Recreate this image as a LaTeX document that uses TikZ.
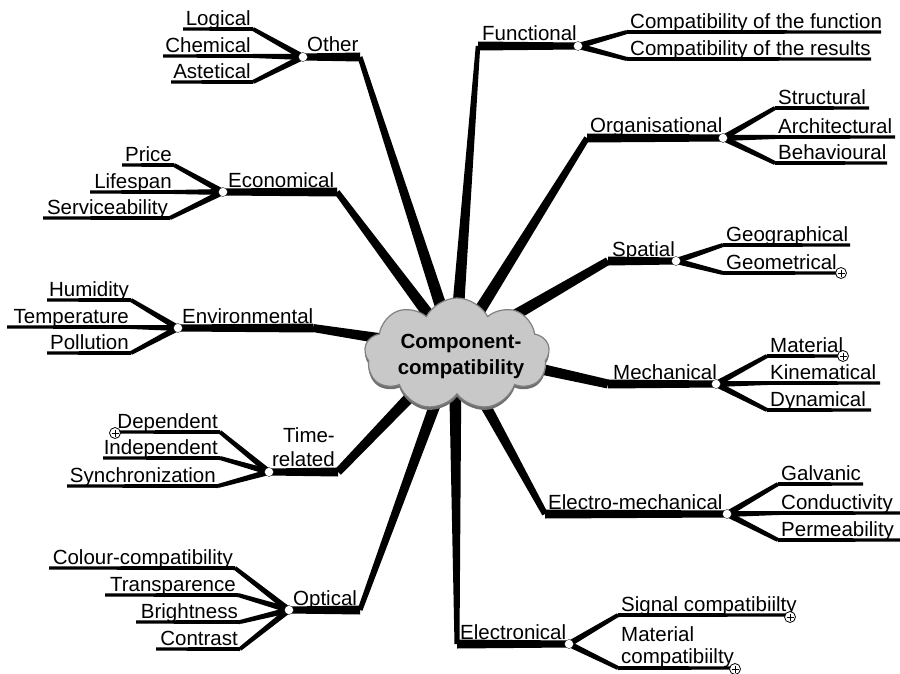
\documentclass[tikz,border=0pt]{standalone}
\usepackage{fontspec}
\setmainfont{Liberation Sans}
\usetikzlibrary{calc,shapes.symbols}

% filled segment from #1 to #2, half-widths #3 (start) and #4 (end)
\newcommand\branchseg[4]{%
  \fill ($(#1)!#3!90:(#2)$) -- ($(#2)!#4!-90:(#1)$) --
        ($(#2)!#4!90:(#1)$) -- ($(#1)!#3!-90:(#2)$) -- cycle;}

% main branch: hub -> elbow (#1), elbow -> junction (#2), elbow half-width #3
\newcommand\mainbranch[3]{%
  \branchseg{hub}{#1}{6.5pt}{#3}%
  \branchseg{#1}{#2}{4.5pt}{3.5pt}}

% leaf on the left: junction #1, key #2, bend #3, end #4, text #5
\newcommand\leafL[5]{%
  \coordinate (b#2) at (#3); \coordinate (e#2) at (#4);
  \branchseg{#1}{b#2}{3pt}{2pt}\branchseg{b#2}{e#2}{2pt}{1.6pt}%
  \node[lbl, anchor=base east] (t#2) at ($(b#2)+(-2,-3.2)$) {#5};}
% leaf on the right
\newcommand\leafR[5]{%
  \coordinate (b#2) at (#3); \coordinate (e#2) at (#4);
  \branchseg{#1}{b#2}{3pt}{2pt}\branchseg{b#2}{e#2}{2pt}{1.6pt}%
  \node[lbl, anchor=base west] (t#2) at ($(b#2)+(3,-3.2)$) {#5};}

\definecolor{cloudfill}{RGB}{200,200,200}
\definecolor{cloudedge}{RGB}{128,128,128}
\definecolor{cloudshade}{RGB}{110,110,110}

\tikzset{
  lbl/.style={inner sep=0pt, font=\fontsize{20.5}{22}\selectfont},
  junc/.style={circle, fill=white, draw=black, line width=0.3pt,
    minimum size=9pt, inner sep=0pt},
  expander/.style={circle, fill=white, draw=black, line width=0.8pt,
    minimum size=11pt, inner sep=0pt,
    path picture={\draw[line width=0.8pt]
      ($(path picture bounding box.center)+(-3.5,0)$) -- ++(7,0)
      ($(path picture bounding box.center)+(0,-3.5)$) -- ++(0,7);}},
  cloudbox/.style={cloud, cloud puffs=9, cloud puff arc=125,
    cloud ignores aspect, minimum width=185pt, minimum height=112pt,
    inner sep=0pt},
}

\begin{document}
\begin{tikzpicture}[x=1pt,y=-1pt]
\useasboundingbox (0,0) rectangle (900,674);

\coordinate (hub) at (455,350);

% elbows and junctions of the main branches
\coordinate (eOther) at (360,57);   \coordinate (jOther) at (303,57);
\coordinate (eEcon) at (337,192);   \coordinate (jEcon) at (223,192);
\coordinate (eEnv) at (313,328);    \coordinate (jEnv) at (178,328);
\coordinate (eTime) at (338,472);   \coordinate (jTime) at (269,472);
\coordinate (eOpt) at (360,610);    \coordinate (jOpt) at (289,610);
\coordinate (eFunc) at (478,46);    \coordinate (jFunc) at (578,46);
\coordinate (eOrg) at (587,138);    \coordinate (jOrg) at (723,138);
\coordinate (eSpat) at (608,261);   \coordinate (jSpat) at (676,261);
\coordinate (eMech) at (608,384);   \coordinate (jMech) at (716,384);
\coordinate (eElm) at (545,514);    \coordinate (jElm) at (727,514);
\coordinate (eElc) at (457,644);    \coordinate (jElc) at (569,644);

\mainbranch{eOther}{jOther}{2.5pt}
\mainbranch{eEcon}{jEcon}{3pt}
\mainbranch{eEnv}{jEnv}{4pt}
\mainbranch{eTime}{jTime}{4pt}
\mainbranch{eOpt}{jOpt}{2.5pt}
\mainbranch{eFunc}{jFunc}{2.25pt}
\mainbranch{eOrg}{jOrg}{3pt}
\mainbranch{eSpat}{jSpat}{4pt}
\mainbranch{eMech}{jMech}{4.5pt}
\mainbranch{eElm}{jElm}{3pt}
\mainbranch{eElc}{jElc}{2.5pt}

% central topic
\node[cloudbox, fill=cloudshade] (cloudShadow) at (457,357) {};
\node[cloudbox, fill=cloudfill, draw=cloudedge, line width=1.2pt] (cloudMain) at (457,354) {};
\node[align=center, inner sep=0pt, font=\fontsize{20.5}{26}\selectfont\bfseries] (topic) at (461,356)
  {Component-\\compatibility};

% main labels
\node[lbl, anchor=base west] (lOther) at ($(jOther)+(4,-5)$) {Other};
\node[lbl, anchor=base west] (lEcon) at ($(jEcon)+(5,-5)$) {Economical};
\node[lbl, anchor=base west] (lEnv) at ($(jEnv)+(4,-5)$) {Environmental};
\node[lbl, anchor=south east, align=right, font=\fontsize{20.5}{24}\selectfont] (lTime) at ($(eTime)+(-3,-5)$) {Time-\\related};
\node[lbl, anchor=base west] (lOpt) at ($(jOpt)+(4,-5)$) {Optical};
\node[lbl, anchor=base west] (lFunc) at ($(eFunc)+(4,-5)$) {Functional};
\node[lbl, anchor=base west] (lOrg) at ($(eOrg)+(3,-5)$) {Organisational};
\node[lbl, anchor=base west] (lSpat) at ($(eSpat)+(4,-5)$) {Spatial};
\node[lbl, anchor=base west] (lMech) at ($(eMech)+(5,-5)$) {Mechanical};
\node[lbl, anchor=base west] (lElm) at ($(eElm)+(3,-5)$) {Electro-mechanical};
\node[lbl, anchor=base west] (lElc) at ($(eElc)+(3,-5)$) {Electronical};

% leaves
\leafL{jOther}{Logical}{253,29}{183,29}{Logical}
\leafL{jOther}{Chemical}{253,56}{163,56}{Chemical}
\leafL{jOther}{Astetical}{253,82}{171,82}{Astetical}

\leafL{jEcon}{Price}{174,165}{122,165}{Price}
\leafL{jEcon}{Lifespan}{174,192}{90,192}{Lifespan}
\leafL{jEcon}{Service}{170,218}{43,218}{Serviceability}

\leafL{jEnv}{Humidity}{131,300}{47,300}{Humidity}
\leafL{jEnv}{Temp}{131,327}{7,327}{Temperature}
\leafL{jEnv}{Pollution}{131,353}{47,353}{Pollution}

\leafL{jTime}{Dependent}{220,432}{115,432}{Dependent}
\leafL{jTime}{Independent}{220,458}{103,458}{Independent}
\leafL{jTime}{Sync}{218,486}{67,486}{Synchronization}

\leafL{jOpt}{Colour}{235,568}{49,568}{Colour-compatibility}
\leafL{jOpt}{Transp}{238,595}{105,595}{Transparence}
\leafL{jOpt}{Bright}{240,622}{136,622}{Brightness}
\leafL{jOpt}{Contrast}{240,649}{156,649}{Contrast}

\leafR{jFunc}{CFunc}{627,32}{881,32}{Compatibility of the function}
\leafR{jFunc}{CRes}{627,59}{871,59}{Compatibility of the results}

\leafR{jOrg}{Struct}{775,108}{869,108}{Structural}
\leafR{jOrg}{Arch}{775,137}{895,137}{Architectural}
\leafR{jOrg}{Behav}{775,163}{887,163}{Behavioural}

\leafR{jSpat}{Geogr}{723,245}{850,245}{Geographical}
\leafR{jSpat}{Geom}{723,273}{838,273}{Geometrical}

\leafR{jMech}{Mat}{767,356}{843,356}{Material}
\leafR{jMech}{Kin}{767,383}{880,383}{Kinematical}
\leafR{jMech}{Dyn}{767,410}{871,410}{Dynamical}

\leafR{jElm}{Galv}{778,484}{863,484}{Galvanic}
\leafR{jElm}{Cond}{778,513}{900,513}{Conductivity}
\leafR{jElm}{Perm}{778,540}{900,540}{Permeability}

\coordinate (bSignal) at (618,615); \coordinate (eSignal) at (790,615);
\branchseg{jElc}{bSignal}{3pt}{2pt}\branchseg{bSignal}{eSignal}{2pt}{1.6pt}
\node[lbl, anchor=base west] (tSignal) at ($(bSignal)+(3,-3.2)$) {Signal compatibiilty};
\coordinate (bMatC) at (618,668); \coordinate (eMatC) at (733,668);
\branchseg{jElc}{bMatC}{3pt}{2pt}\branchseg{bMatC}{eMatC}{2pt}{1.6pt}
\node[lbl, anchor=south west, align=left] (tMatC) at ($(bMatC)+(3,0)$) {Material\\compatibiilty};

% junction dots
\foreach \j in {jOther,jEcon,jEnv,jTime,jOpt,jFunc,jOrg,jSpat,jMech,jElm,jElc}
  \node[junc] (\j-dot) at (\j) {};

% collapsed-branch markers
\node[expander] (xDependent) at (115,433) {};
\node[expander] (xGeom) at (841,273) {};
\node[expander] (xMat) at (843,356) {};
\node[expander] (xSignal) at (790,617) {};
\node[expander] (xMatC) at (735,669) {};
\end{tikzpicture}
\end{document}
